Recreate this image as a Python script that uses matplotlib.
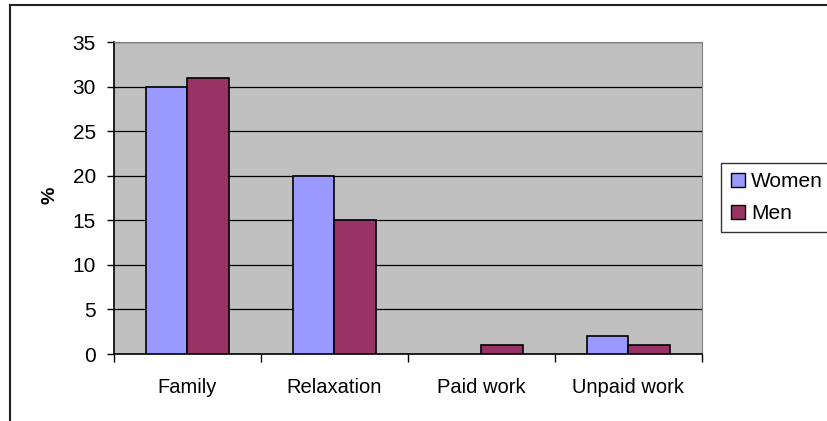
import matplotlib
matplotlib.use("Agg")
from matplotlib import pyplot as plt
from matplotlib.lines import Line2D
import numpy as np

categories = ["Family", "Relaxation", "Paid work", "Unpaid work"]
women = [30, 20, 0, 2]
men = [31, 15, 1, 1]

plt.rcParams['font.family'] = ['Liberation Sans', 'DejaVu Sans']

W, H = 828, 421
fig = plt.figure(figsize=(W / 100, H / 100), dpi=100)
ax = fig.add_axes([114 / W, (H - 354) / H, (702 - 114) / W, (354 - 42) / H])
ax.set_facecolor('#C0C0C0')

x = np.arange(len(categories))
bw = 0.285
# zero-height bars are not drawn in the original
ax.bar(x - bw / 2, women, bw, color='#9999FF', edgecolor='black',
       linewidth=[1.2 if v else 0 for v in women], label='Women', zorder=3)
ax.bar(x + bw / 2, men, bw, color='#993366', edgecolor='black',
       linewidth=[1.2 if v else 0 for v in men], label='Men', zorder=3)

ax.set_xlim(-0.5, len(categories) - 0.5)
ax.set_ylim(0, 35)
ax.set_yticks(range(0, 36, 5))
ax.yaxis.grid(True, color='black', linewidth=0.9, zorder=1)
ax.set_axisbelow(True)

ax.set_xticks(np.arange(-0.5, len(categories), 1))
ax.set_xticklabels([])
ax.set_xticks(x, minor=True)
ax.set_xticklabels(categories, minor=True, fontsize=14.5)
ax.tick_params(axis='x', which='minor', length=0, pad=17)
ax.tick_params(axis='x', which='major', length=6, width=1, color='black')
ax.tick_params(axis='y', length=5, width=1, labelsize=15, pad=8)

for s in ['top', 'right']:
    ax.spines[s].set_color('#808080')
for s in ['left', 'bottom']:
    ax.spines[s].set_color('black')
    ax.spines[s].set_linewidth(1.2)

ax.set_ylabel('%', fontsize=14, fontweight='bold')
ax.yaxis.set_label_coords(-0.095, 0.51)

leg = fig.legend(handles=[
    Line2D([], [], marker='s', linestyle='none', markersize=10, markerfacecolor='#9999FF', markeredgecolor='black', label='Women'),
    Line2D([], [], marker='s', linestyle='none', markersize=10, markerfacecolor='#993366', markeredgecolor='black', label='Men')],
    loc='upper left', bbox_to_anchor=(721 / W, 1 - 163 / H), fontsize=15,
    frameon=True, fancybox=False, handlelength=0.7, handletextpad=0.3,
    borderpad=0.45, labelspacing=0.6, borderaxespad=0)
leg.get_frame().set_edgecolor('black')
leg.get_frame().set_linewidth(1)

# outer chart border (right and bottom edges fall outside the picture)
fig.add_artist(Line2D([9.5 / W, 9.5 / W], [0, 1 - 4.5 / H], color='#222222', linewidth=1.5))
fig.add_artist(Line2D([9.5 / W, 1], [1 - 4.5 / H, 1 - 4.5 / H], color='#222222', linewidth=1.5))

fig.savefig('out.png', dpi=100)
